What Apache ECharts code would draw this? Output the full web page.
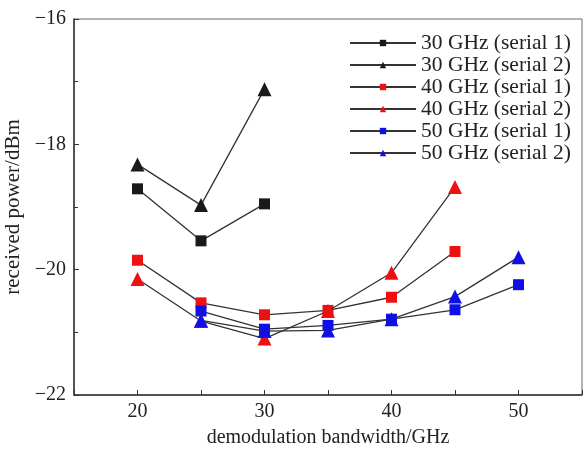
<!DOCTYPE html>
<html>
<head>
<meta charset="utf-8">
<script src="https://cdn.jsdelivr.net/npm/echarts@6/dist/echarts.min.js"></script>
<style>html,body{margin:0;padding:0;background:#fff}#c{width:584px;height:456px}</style>
</head>
<body>
<div id="c"></div>
<script>
const seriesNames = ['30 GHz (serial 1)','30 GHz (serial 2)','40 GHz (serial 1)','40 GHz (serial 2)','50 GHz (serial 1)','50 GHz (serial 2)'];
const x30 = [20, 25, 30];
const x40 = [20, 25, 30, 35, 40, 45];
const x50 = [25, 30, 35, 40, 45, 50];
const ghz30s1 = [-18.71, -19.54, -18.95];
const ghz30s2 = [-18.32, -18.97, -17.12];
const ghz40s1 = [-19.85, -20.53, -20.72, -20.65, -20.44, -19.71];
const ghz40s2 = [-20.15, -20.82, -21.10, -20.66, -20.05, -18.68];
const ghz50s1 = [-20.66, -20.95, -20.89, -20.79, -20.64, -20.24];
const ghz50s2 = [-20.81, -20.98, -20.97, -20.79, -20.43, -19.80];
const xTicks = [20, 30, 40, 50];
const yTicks = [-22, -20, -18, -16];

const BLACK = '#1a1a1a', RED = '#ee1111', BLUE = '#1010e6';
const pair = (xs, ys) => xs.map((x, i) => [x, ys[i]]);
const defs = [
  [x30, ghz30s1, 'rect', BLACK, 11],
  [x30, ghz30s2, 'triangle', BLACK, 14],
  [x40, ghz40s1, 'rect', RED, 11],
  [x40, ghz40s2, 'triangle', RED, 14],
  [x50, ghz50s1, 'rect', BLUE, 11],
  [x50, ghz50s2, 'triangle', BLUE, 14]
];
const font = '"Liberation Serif", "Times New Roman", serif';
const chart = echarts.init(document.getElementById('c'), null, {renderer: 'canvas'});
chart.setOption({
  animation: false,
  backgroundColor: '#fff',
  grid: {left: 74, right: 2, top: 19, bottom: 61, show: true, borderColor: '#666', borderWidth: 1,
    containLabel: false, outerBoundsMode: 'none'},
  legend: {
    left: 349, top: 32, orient: 'vertical', padding: 0,
    itemWidth: 66, itemHeight: 8, itemGap: 0,
    textStyle: {fontFamily: font, fontSize: 21.5, lineHeight: 21.7, color: '#222'},
    data: seriesNames
  },
  xAxis: {
    type: 'value', min: 15, max: 55, interval: 5,
    name: 'demodulation bandwidth/GHz', nameLocation: 'middle', nameGap: 33,
    nameTextStyle: {fontFamily: font, fontSize: 20, color: '#222'},
    axisLine: {show: true, lineStyle: {color: '#333', width: 1.5}},
    axisTick: {show: true, inside: true, length: 5, lineStyle: {color: '#333'}},
    axisLabel: {fontFamily: font, fontSize: 20, color: '#222', margin: 7,
      formatter: v => xTicks.includes(v) ? String(v) : ''},
    splitLine: {show: false}
  },
  yAxis: {
    type: 'value', min: -22, max: -16, interval: 2,
    name: 'received power/dBm', nameLocation: 'middle', nameGap: 45,
    nameTextStyle: {fontFamily: font, fontSize: 21, color: '#222'},
    axisLine: {show: true, lineStyle: {color: '#333', width: 1.5}},
    axisTick: {show: true, inside: true, length: 5, lineStyle: {color: '#333'}},
    minorTick: {show: true, splitNumber: 2, length: 4, lineStyle: {color: '#333'}},
    axisLabel: {fontFamily: font, fontSize: 20, color: '#222', margin: 8,
      formatter: v => yTicks.includes(v) ? String(v).replace('-', '\u2212') : ''},
    splitLine: {show: false}
  },
  series: defs.map((d, i) => ({
    name: seriesNames[i], type: 'line',
    data: pair(d[0], d[1]),
    symbol: d[2], symbolSize: d[4],
    itemStyle: {color: d[3]},
    lineStyle: {color: '#333', width: 1.3},
    z: 2 + i
  }))
});
</script>
</body>
</html>
